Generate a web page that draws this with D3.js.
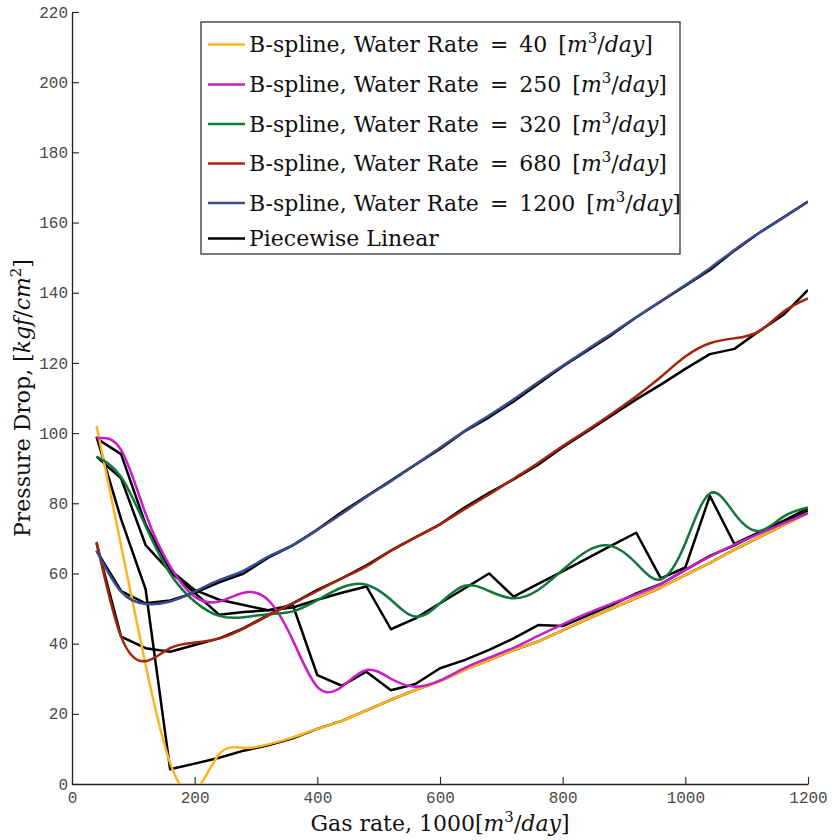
<!DOCTYPE html>
<html>
<head>
<meta charset="utf-8">
<script src="https://cdn.jsdelivr.net/npm/d3@7"></script>
<style>
  body { margin: 0; background: #fff; }
  text { white-space: pre; }
</style>
</head>
<body>
<div id="chart"></div>
<script>
// gas rate grid (x), 1000 m3/day
var gasRate = [40, 80, 120, 160, 200, 240, 280, 320, 360, 400, 440, 480, 520, 560, 600,
               640, 680, 720, 760, 800, 840, 880, 920, 960, 1000, 1040, 1080, 1120, 1160, 1200];
var xTicks = [0, 200, 400, 600, 800, 1000, 1200];
var yTicks = [0, 20, 40, 60, 80, 100, 120, 140, 160, 180, 200, 220];
var waterRates = ["40", "250", "320", "680", "1200"];

// B-spline curves
var spline40   = [102, 68, 34, 6, -2, 8.5, 10.3, 11.3, 13.3, 15.7, 18, 21, 24, 26.8, 29.3,
                  32.5, 35.3, 38.2, 40.6, 43.8, 47, 50, 53, 56, 59.5, 63, 66.8, 70.3, 73.8, 77.3];
var spline250  = [98.5, 95.2, 77, 62, 53.4, 52, 54.5, 52.4, 41, 27.7, 27.7, 32.5, 30, 27.7, 29.5,
                  33, 36, 38.8, 42.2, 45.5, 48.6, 51.4, 54, 57, 61, 64.8, 68.2, 71.3, 74.3, 77.2];
var spline320  = [93.3, 87.5, 73.5, 60, 52, 47.9, 47.5, 48.4, 49.2, 52.4, 56, 56.8, 52.5, 47.7, 51.5,
                  56.5, 55, 52.9, 55.3, 61, 66.4, 67.8, 62.9, 58.3, 68.6, 82.8, 77.1, 72.1, 76.2, 78.8];
var spline680  = [69, 42, 35, 38.7, 40.3, 41.5, 44.3, 48, 51.5, 55, 58.6, 62, 66.5, 70.3, 74,
                  78.3, 82.5, 87, 91.5, 96.3, 100.8, 105.5, 110.5, 116, 121.8, 125.6, 127, 129, 134.6, 138.4];
var spline1200 = [66.5, 54.8, 51.3, 52, 54.8, 58.1, 60.8, 64.8, 68.1, 72.4, 77, 81.8, 86.3, 91, 95.8,
                  100.6, 105, 109.6, 114.5, 119.2, 123.8, 128.4, 133, 137.6, 142.2, 147, 152.2, 157, 161.4, 165.9];

// piecewise linear data
var linear40   = [99, 75.5, 55.5, 4.2, 5.8, 7.5, 9.5, 11, 13, 15.7, 18, 21, 24, 26.8, 29.3,
                  32.5, 35.3, 38.2, 40.6, 43.8, 47, 50, 53, 56, 59.5, 63, 66.8, 70.3, 73.8, 77.3];
var linear250  = [98.5, 94, 74, 61, 55.3, 52.5, 51, 49.5, 51, 31, 28, 32, 26.7, 28.5, 33,
                  35.3, 38.2, 41.5, 45.3, 45, 48, 51, 54.3, 57, 61, 65, 68, 71.5, 74.5, 77.8];
var linear320  = [93.3, 87.1, 68.1, 60.5, 54.5, 48.2, 49, 49.5, 50.3, 52.5, 54.5, 56.3, 44.1, 47.2, 51.5,
                  55.7, 60, 53.4, 57, 60.6, 64.3, 68, 71.6, 58.6, 61.7, 82.1, 68.4, 71.7, 75, 78.6];
var linear680  = [68.6, 42, 38.7, 37.7, 39.6, 41.5, 44.4, 48.2, 51.5, 55.3, 58.6, 62.3, 66.5, 70.3, 74,
                  78.8, 83, 86.8, 91, 96, 100.5, 105, 109.6, 113.8, 118.3, 122.5, 124, 129, 133.7, 140.8];
var linear1200 = [66.5, 55, 51.5, 52.3, 54.5, 57.5, 60, 64.5, 68, 72.5, 77.5, 82, 86.5, 91, 95.5,
                  100.5, 104.5, 109, 114, 119, 123.5, 128, 133, 137.5, 142, 146.5, 152, 157, 161.5, 166];

var splines = [spline40, spline250, spline320, spline680, spline1200];
var linears = [linear40, linear250, linear320, linear680, linear1200];
var colors = ["#FDB41E", "#C81EC8", "#11773A", "#A3260C", "#3A4A8C"];

var margin = {top: 12, right: 29, bottom: 56, left: 72};
var width = 837 - margin.left - margin.right;
var height = 840 - margin.top - margin.bottom;

var svg = d3.select("#chart").append("svg")
    .attr("width", 837)
    .attr("height", 840);

var g = svg.append("g")
    .attr("transform", "translate(" + margin.left + "," + margin.top + ")");

var x = d3.scaleLinear().domain([0, 1200]).range([0, width]);
var y = d3.scaleLinear().domain([0, 220]).range([height, 0]);

g.append("clipPath").attr("id", "plotclip")
    .append("rect").attr("width", width).attr("height", height);

// axes, ticks pointing inside
var xAxis = g.append("g")
    .attr("transform", "translate(0," + height + ")")
    .call(d3.axisBottom(x).tickValues(xTicks).tickFormat(d3.format("d"))
        .tickSizeInner(-7).tickSizeOuter(0).tickPadding(8));
var yAxis = g.append("g")
    .call(d3.axisLeft(y).tickValues(yTicks).tickFormat(d3.format("d"))
        .tickSizeInner(-7).tickSizeOuter(0).tickPadding(4));

[xAxis, yAxis].forEach(function(ax){
    ax.select(".domain").attr("stroke", "#222").attr("stroke-width", 1.3);
    ax.selectAll(".tick line").attr("stroke", "#222").attr("stroke-width", 1.1);
    ax.selectAll(".tick text")
        .style("font-family", "'Liberation Mono', 'DejaVu Sans Mono', monospace")
        .style("font-size", "16px")
        .attr("fill", "#4a4a4a");
});

var plot = g.append("g").attr("clip-path", "url(#plotclip)");

var lineLinear = d3.line()
    .x(function(d, i){ return x(gasRate[i]); })
    .y(function(d){ return y(d); });
var lineSpline = d3.line()
    .x(function(d, i){ return x(gasRate[i]); })
    .y(function(d){ return y(d); })
    .curve(d3.curveNatural);

plot.selectAll(".linear")
    .data(linears)
    .enter()
    .append("path")
    .attr("class", "linear")
    .attr("d", lineLinear)
    .attr("fill", "none")
    .attr("stroke", "#000")
    .attr("stroke-width", 2.5)
    .attr("stroke-linejoin", "round");

plot.selectAll(".spline")
    .data(splines)
    .enter()
    .append("path")
    .attr("class", "spline")
    .attr("d", lineSpline)
    .attr("fill", "none")
    .attr("stroke", function(d, i){ return colors[i]; })
    .attr("stroke-width", 2.5);

// text with math pieces
var serif = "'DejaVu Serif', 'Liberation Serif', serif";
function mathText(sel, pieces){
    pieces.forEach(function(p){
        var t = sel.append("tspan").text(p.t);
        if (p.it) t.style("font-style", "italic");
        if (p.sup) t.attr("dy", -9).style("font-size", "0.68em");
        if (p.down) t.attr("dy", 9);
        if (p.dx) t.attr("dx", p.dx);
    });
}
function unitPieces(prefix){
    return [{t: prefix}, {t: "m", it: true}, {t: "3", sup: true},
            {t: "/", down: true}, {t: "day", it: true}, {t: "]"}];
}
function legendPieces(w){
    return [{t: "B-spline, Water Rate"}, {t: "=", dx: 11}, {t: w, dx: 11}, {t: "[", dx: 11},
            {t: "m", it: true}, {t: "3", sup: true},
            {t: "/", down: true}, {t: "day", it: true}, {t: "]"}];
}

// x axis title
var xTitle = svg.append("text")
    .attr("x", margin.left + width / 2)
    .attr("y", 831)
    .attr("text-anchor", "middle")
    .style("font-family", serif)
    .style("font-size", "22px")
    .attr("fill", "#111");
mathText(xTitle, unitPieces("Gas rate, 1000["));

// y axis title
var yTitle = svg.append("text")
    .attr("transform", "translate(30," + (margin.top + height / 2) + ") rotate(-90)")
    .attr("text-anchor", "middle")
    .style("font-family", serif)
    .style("font-size", "22px")
    .attr("fill", "#111");
mathText(yTitle, [{t: "Pressure Drop, ["}, {t: "kgf", it: true}, {t: "/"}, {t: "cm", it: true},
                  {t: "2", sup: true}, {t: "]", down: true}]);

// legend
var legend = svg.append("g");
legend.append("rect")
    .attr("x", 201).attr("y", 22)
    .attr("width", 479).attr("height", 232)
    .attr("fill", "#fff")
    .attr("stroke", "#222")
    .attr("stroke-width", 1.2);

var legendRows = [44.5, 84.5, 124, 163.5, 203, 238.5];
var legendItems = waterRates.map(function(w, i){
    return {color: colors[i], pieces: legendPieces(w)};
});
legendItems.push({color: "#000", pieces: [{t: "Piecewise Linear"}]});

legendItems.forEach(function(item, i){
    legend.append("line")
        .attr("x1", 208).attr("x2", 245)
        .attr("y1", legendRows[i]).attr("y2", legendRows[i])
        .attr("stroke", item.color)
        .attr("stroke-width", 2.5);
    var t = legend.append("text")
        .attr("x", 249)
        .attr("y", legendRows[i] + 7.5)
        .style("font-family", serif)
        .style("font-size", "22px")
        .attr("fill", "#111");
    mathText(t, item.pieces);
});
</script>
</body>
</html>
